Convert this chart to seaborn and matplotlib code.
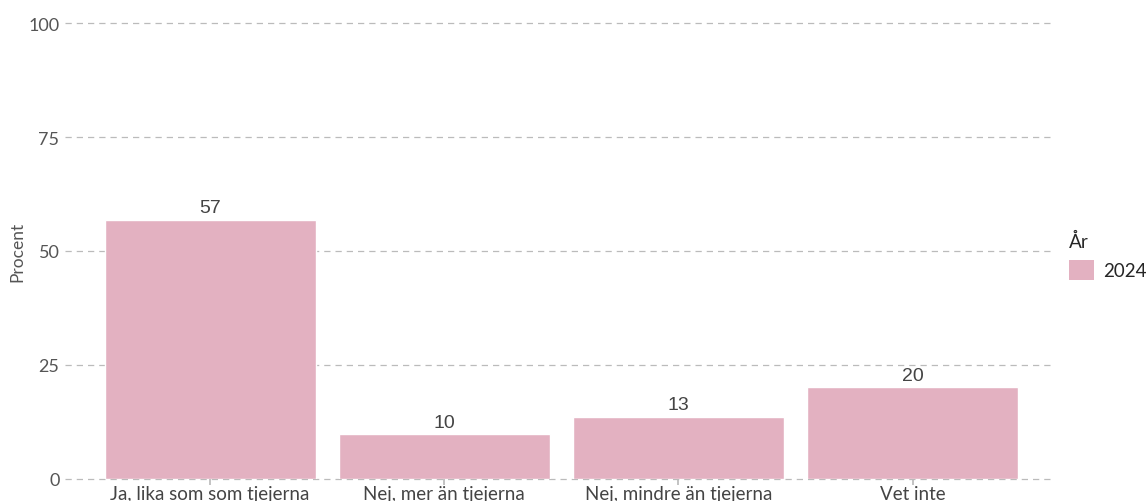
import pandas as pd
import seaborn as sns
import matplotlib.pyplot as plt
from matplotlib.patches import Patch

# svarsalternativ och andel (procent) för 2024
kategorier = ['Ja, lika som som tjejerna', 'Nej, mer än tjejerna',
              'Nej, mindre än tjejerna', 'Vet inte']
procent = [56.9, 9.8, 13.6, 20.1]
etiketter = ['57', '10', '13', '20']
ar = ['2024'] * 4

df = pd.DataFrame({'Svar': kategorier, 'Procent': procent, 'År': ar})

sns.set_theme(style='white')
plt.rcParams['font.family'] = ['Lato', 'DejaVu Sans']

fig = plt.figure(figsize=(11.48, 5.02), dpi=100)
ax = fig.add_axes([65 / 1148, 22 / 502, 988 / 1148, 456 / 502])

sns.barplot(data=df, x='Svar', y='Procent', color='#E3B1C1', width=0.9,
            saturation=1, ax=ax)

for i, (v, t) in enumerate(zip(procent, etiketter)):
    ax.text(i, v + 0.8, t, ha='center', va='bottom', fontsize=14,
            color='#444444', family=['Liberation Sans', 'Arimo', 'DejaVu Sans'])

ax.set_ylim(0, 100)
ax.set_xlim(-0.62, 3.6)
ax.set_yticks([0, 25, 50, 75, 100])
ax.yaxis.grid(True, linestyle=(0, (5, 4)), color='#BBBBBB', linewidth=0.9)
ax.set_axisbelow(True)
for gl in ax.get_ygridlines():
    gl.set_clip_on(False)
for s in ax.spines.values():
    s.set_visible(False)

ax.tick_params(axis='y', length=0, labelsize=13, labelcolor='#555555', pad=4)
ax.tick_params(axis='x', length=4, color='#BBBBBB', labelsize=13.5,
               labelcolor='#444444', pad=0, bottom=True)
ax.set_xlabel('')
ax.set_ylabel('Procent', fontsize=12.5, color='#555555', labelpad=2)

handles = [Patch(facecolor='#E3B1C1', edgecolor='none')]
leg = fig.legend(handles, ['2024'], title='År', loc='upper left',
                 bbox_to_anchor=(1058 / 1148, 1 - 222 / 502), frameon=False,
                 fontsize=13.5, title_fontsize=13.5, handlelength=1.3,
                 handleheight=1.3, handletextpad=0.5, alignment='left',
                 borderaxespad=0.2)

fig.savefig('out.png', dpi=100)
